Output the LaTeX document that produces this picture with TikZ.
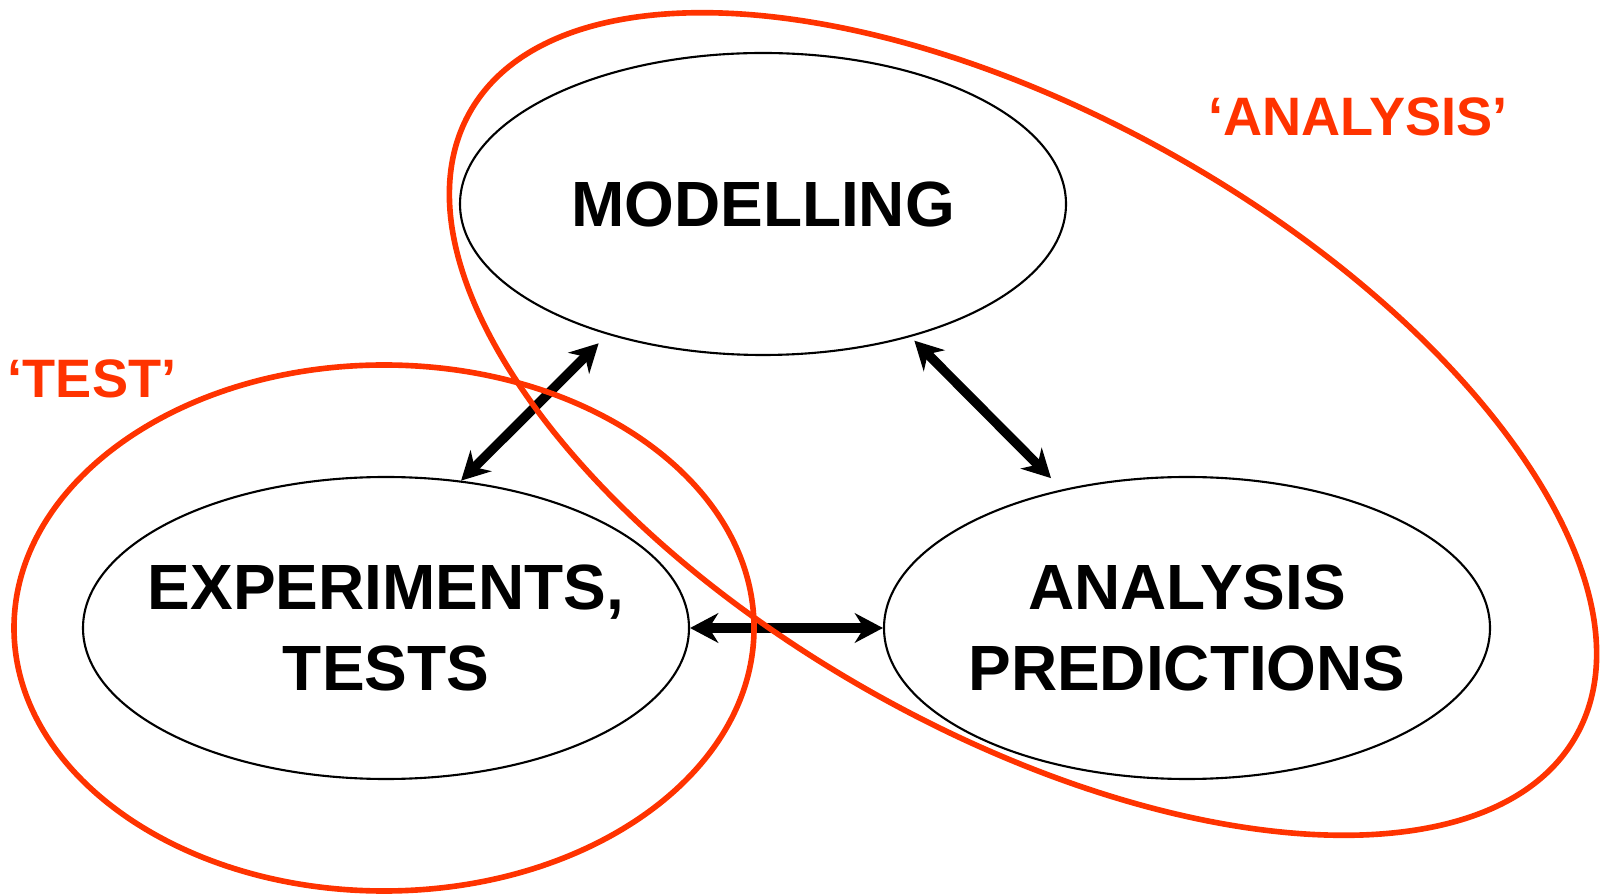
\documentclass[tikz,border=0pt]{standalone}
\usepackage{fontspec}
\setmainfont{Liberation Sans}
\usepackage{tikz}
\usetikzlibrary{shapes.geometric, arrows.meta}
\definecolor{scopered}{RGB}{255,51,0}
\tikzset{
    topicbox/.style={ellipse, draw=black, line width=0.6pt, inner xsep=-12pt, inner ysep=0pt,
                     minimum width=6.06cm, minimum height=3.02cm, align=center,
                     font=\bfseries\fontsize{18.2}{23}\selectfont},
    arrow/.style={<->, >={Stealth[length=8pt, width=8.4pt, inset=2.6pt]},
                  line width=2.7pt, draw=black},
    scopeline/.style={draw=scopered, line width=1.6pt},
    scopelbl/.style={text=scopered, inner sep=0pt,
                     font=\bfseries\fontsize{15.4}{18}\selectfont},
}
\begin{document}
\begin{tikzpicture}[x=0.1mm, y=0.1mm]
        \useasboundingbox (0,0) rectangle (1601,894);
        \node[topicbox] (mod) at (763,690) {MODELLING};
        \node[topicbox] (exp) at (386,266) {EXPERIMENTS,\\TESTS};
        \node[topicbox] (ana) at (1187,266) {ANALYSIS\\PREDICTIONS};
        \draw[arrow, shorten >=3.5pt] (exp.63) -- (mod.220);
        \draw[arrow, shorten <=1.5pt, shorten >=4.5pt] (mod.318) -- (ana.132);
        \draw[arrow] (exp.east) -- (ana.west);
        \draw[scopeline] (384,266) ellipse [x radius=370, y radius=263];
        \draw[scopeline, rotate around={-29.4:(1023,470)}] (1023,470) ellipse [x radius=635, y radius=308];
        \node[scopelbl] (testlbl) at (92,515) {`TEST'};
        \node[scopelbl] (analbl) at (1358,777) {`ANALYSIS'};
    \end{tikzpicture}
\end{document}
